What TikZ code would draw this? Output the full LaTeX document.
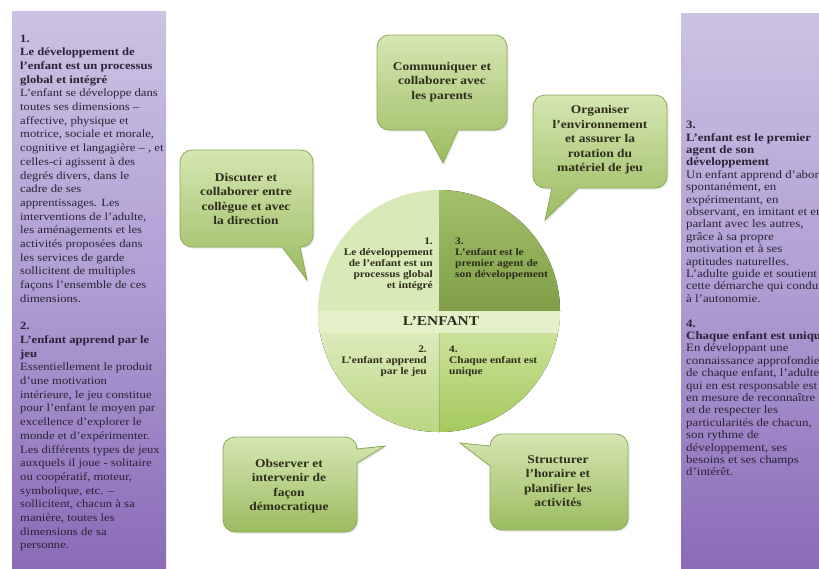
\documentclass[tikz,border=0pt]{standalone}
\usepackage{fontspec}
\setmainfont{Liberation Serif}[FakeStretch=1.14]
\usetikzlibrary{shadows}
\definecolor{pantop}{HTML}{CCC2E2}
\definecolor{panmid}{HTML}{AE9DD3}
\definecolor{panbot}{HTML}{8B6BB8}
\definecolor{ptxt}{HTML}{2A2236}
\definecolor{ctop}{HTML}{D5E6B2}
\definecolor{cbot}{HTML}{9BBC60}
\definecolor{cborder}{HTML}{8CA95A}
\definecolor{ctxt}{HTML}{2E2E1C}
\definecolor{qtl}{HTML}{D9EAB9}
\definecolor{qtrtop}{HTML}{A3C16B}
\definecolor{qtrbot}{HTML}{7F9E47}
\definecolor{qpale}{HTML}{E4F0C8}
\definecolor{qblbot}{HTML}{BAD781}
\definecolor{qbrtop}{HTML}{D2E8A6}
\definecolor{qbrbot}{HTML}{A5C95E}
\begin{document}
\begin{tikzpicture}[x=1pt,y=-1pt,
  ptext/.style={anchor=north west, inner sep=0pt, align=left, text=ptxt},
  callout/.style={draw=cborder, line width=0.8pt, top color=ctop, bottom color=cbot,
     drop shadow={opacity=0.2, shadow xshift=1.5pt, shadow yshift=-1.5pt}},
  ctext/.style={align=center, inner sep=0pt, text=ctxt, font=\bfseries\fontsize{11.8}{14.5}\selectfont},
  qtext/.style={inner sep=0pt, text=ctxt, font=\bfseries\fontsize{10}{11}\selectfont}]
\useasboundingbox (0,0) rectangle (819,568);
\fill[white] (0,0) rectangle (819,568);

% ---------- left panel ----------
\fill[top color=pantop, bottom color=panbot, middle color=panmid] (12,11) rectangle (166,568);
\node[ptext, font=\fontsize{11.1}{13.7}\selectfont] (lefttext) at (20,34.5) {%
\textbf{1.}\\
\textbf{Le développement de}\\
\textbf{l'enfant est un processus}\\
\textbf{global et intégré}\\
L'enfant se développe dans\\
toutes ses dimensions –\\
affective, physique et\\
motrice, sociale et morale,\\
cognitive et langagière – , et\\
celles-ci agissent à des\\
degrés divers, dans le\\
cadre de ses\\
apprentissages. Les\\
interventions de l'adulte,\\
les aménagements et les\\
activités proposées dans\\
les services de garde\\
sollicitent de multiples\\
façons l'ensemble de ces\\
dimensions.\\[13.7pt]
\textbf{2.}\\
\textbf{L'enfant apprend par le}\\
\textbf{jeu}\\
Essentiellement le produit\\
d'une motivation\\
intérieure, le jeu constitue\\
pour l'enfant le moyen par\\
excellence d'explorer le\\
monde et d'expérimenter.\\
Les différents types de jeux\\
auxquels il joue - solitaire\\
ou coopératif, moteur,\\
symbolique, etc. –\\
sollicitent, chacun à sa\\
manière, toutes les\\
dimensions de sa\\
personne.};

% ---------- right panel ----------
\fill[top color=pantop, bottom color=panbot, middle color=panmid] (681,13) rectangle (819,568);
\begin{scope}
\clip (681,13) rectangle (819,568);
\node[ptext, font=\fontsize{11.3}{12.4}\selectfont] (righttext) at (686,121) {%
\textbf{3.}\\
\textbf{L'enfant est le premier}\\
\textbf{agent de son}\\
\textbf{développement}\\
Un enfant apprend d'abord\\
spontanément, en\\
expérimentant, en\\
observant, en imitant et en\\
parlant avec les autres,\\
grâce à sa propre\\
motivation et à ses\\
aptitudes naturelles.\\
L'adulte guide et soutient\\
cette démarche qui conduit\\
à l'autonomie.\\[12.4pt]
\textbf{4.}\\
\textbf{Chaque enfant est unique}\\
En développant une\\
connaissance approfondie\\
de chaque enfant, l'adulte\\
qui en est responsable est\\
en mesure de reconnaître\\
et de respecter les\\
particularités de chacun,\\
son rythme de\\
développement, ses\\
besoins et ses champs\\
d'intérêt.};
\end{scope}

% ---------- central circle ----------
\coordinate (c) at (439,311);
\fill[qtl] (c) -- (318,311) arc[start angle=180,end angle=270,radius=121] -- cycle;
\fill[top color=qtrtop, bottom color=qtrbot] (c) -- (439,190) arc[start angle=270,end angle=360,radius=121] -- cycle;
\fill[top color=qbrtop, bottom color=qbrbot] (c) -- (560,311) arc[start angle=0,end angle=90,radius=121] -- cycle;
\fill[top color=qpale, bottom color=qblbot] (c) -- (439,432) arc[start angle=90,end angle=180,radius=121] -- cycle;
\begin{scope}
\clip (c) circle[radius=121];
\fill[qpale] (318,311) rectangle (560,333);
\end{scope}

\node[qtext, anchor=north east, align=right] (q1) at (433,237.5)
  {1.\\Le développement\\de l'enfant est un\\processus global\\et intégré};
\node[qtext, anchor=north west, align=left] (q3) at (455,237.5)
  {3.\\L'enfant est le\\premier agent de\\son développement};
\node[qtext, anchor=north east, align=right] (q2) at (427,345.5)
  {2.\\L'enfant apprend\\par le jeu};
\node[qtext, anchor=north west, align=left] (q4) at (449,345.5)
  {4.\\Chaque enfant est\\unique};
\node[inner sep=0pt, text=ctxt, font=\bfseries\fontsize{13.5}{15}\selectfont] (enfant) at (441,321) {L'ENFANT};

% ---------- callouts ----------
% A: parents
\path[callout] (458,130) -- (495,130) arc[start angle=90,end angle=0,radius=12]
  -- (507,47) arc[start angle=0,end angle=-90,radius=12]
  -- (389,35) arc[start angle=-90,end angle=-180,radius=12]
  -- (377,118) arc[start angle=180,end angle=90,radius=12]
  -- (425,130) -- (443,163) -- cycle;
\node[ctext] (parents) at (442,82) {Communiquer et\\collaborer avec\\les parents};

% B: environnement
\path[callout] (578,188) -- (655,188) arc[start angle=90,end angle=0,radius=12]
  -- (667,107) arc[start angle=0,end angle=-90,radius=12]
  -- (545,95) arc[start angle=-90,end angle=-180,radius=12]
  -- (533,176) arc[start angle=180,end angle=90,radius=12]
  -- (552,188) -- (545,220) -- cycle;
\node[ctext] (environnement) at (600,140) {Organiser\\l'environnement\\et assurer la\\rotation du\\matériel de jeu};

% C: collegue
\path[callout] (300,247) -- (301,247) arc[start angle=90,end angle=0,radius=12]
  -- (313,162) arc[start angle=0,end angle=-90,radius=12]
  -- (192,150) arc[start angle=-90,end angle=-180,radius=12]
  -- (180,235) arc[start angle=180,end angle=90,radius=12]
  -- (282,247) -- (307,280) -- cycle;
\node[ctext] (collegue) at (246,199) {Discuter et\\collaborer entre\\collègue et avec\\la direction};

% D: observer
\path[callout] (357,463) -- (357,520) arc[start angle=0,end angle=90,radius=12]
  -- (235,532) arc[start angle=90,end angle=180,radius=12]
  -- (223,449) arc[start angle=180,end angle=270,radius=12]
  -- (345,437) arc[start angle=270,end angle=360,radius=12]
  -- (385,446) -- cycle;
\node[ctext] (observer) at (289,486) {Observer et\\intervenir de\\façon\\démocratique};

% E: structurer
\path[callout] (490,466) -- (490,518) arc[start angle=180,end angle=90,radius=12]
  -- (616,530) arc[start angle=90,end angle=0,radius=12]
  -- (628,446) arc[start angle=0,end angle=-90,radius=12]
  -- (502,434) arc[start angle=-90,end angle=-180,radius=12]
  -- (460,443) -- cycle;
\node[ctext] (structurer) at (558,481) {Structurer\\l'horaire et\\planifier les\\activités};
\end{tikzpicture}
\end{document}
